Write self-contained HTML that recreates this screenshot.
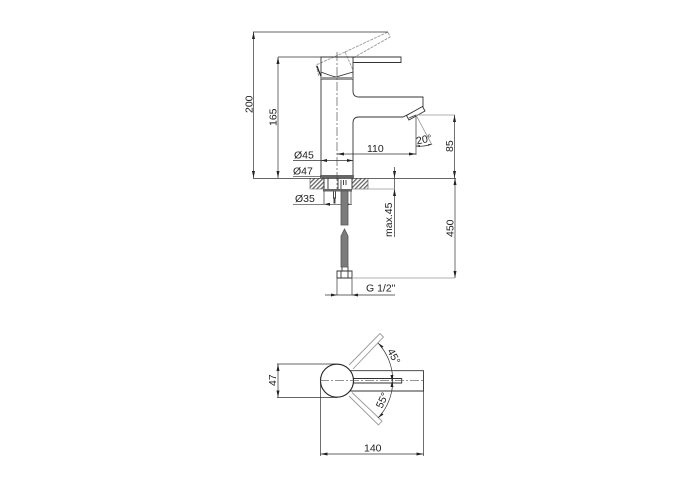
<!DOCTYPE html>
<html><head><meta charset="utf-8"><style>
html,body{margin:0;padding:0;background:#fff}
svg{display:block}
text{font-family:"Liberation Sans",sans-serif;font-size:10.5px;fill:#222}
.d{stroke:#333;stroke-width:.7;fill:none}
.l{stroke:#999;stroke-width:.8;fill:none}
.o{stroke:#333;stroke-width:.9;fill:none}
.g{stroke:#999;stroke-width:.9;fill:#fff}
.c{stroke:#555;stroke-width:.7;fill:none;stroke-dasharray:9 2 2 2}
.a{fill:#222;stroke:none}
</style></head><body>
<svg width="700" height="500" viewBox="0 0 700 500" xmlns="http://www.w3.org/2000/svg">
<defs><pattern id="h" width="3" height="3" patternUnits="userSpaceOnUse" patternTransform="rotate(45)"><rect width="3" height="3" fill="#fff"/><rect width="1.3" height="3" fill="#666"/></pattern></defs>

<!-- raised handle -->
<path class="g" d="M345 52L388 32L390 37L353 58" stroke-dasharray="3 1"/>
<path class="g" d="M345 52L316 65L319 77M345 52L353 70" stroke-dasharray="3 1"/>
<!-- cap and lever -->
<path class="o" d="M321 57H353V79H321ZM321 72C326 74 331 76 336 77L353 72" />
<path d="M321 77H353V79H321Z" fill="#999"/>
<path d="M317 66Q319 72 321 76" stroke="#222" stroke-width="1.2" fill="none"/>
<path class="o" d="M353 57H401V62.500H353"/>
<!-- body and spout -->
<path class="o" d="M321 79V175M353 79V91Q353 97 359 97H423V107L403 117H359Q353 117 353 123V175"/>
<path class="g" style="stroke:#333" d="M406.500 115.500L422.500 106.500L425 111L409 120Z"/>
<path class="d" d="M409 118L416 115"/>
<path d="M320 175H354V178H320Z" fill="#666"/>
<path class="c" d="M337 52V190"/>

<!-- dimension lines: front -->
<path class="d" d="M253 32H388M253.500 32V178M253 178.400H456M278 57H321M278 57V178"/>
<path class="a" d="M253.500 32l-1.500 7h3zM253.500 178l-1.500-7h3zM278 57l-1.500 7h3zM278 178l-1.500-7h3z"/>
<text transform="translate(252.500 113) rotate(-90)">200</text>
<text transform="translate(276.500 126) rotate(-90)">165</text>
<path class="d" d="M293 160.500H353M293 176.300H321"/>
<path class="a" d="M321 160.500l6-1.500v3zM353 160.500l-6-1.500v3z"/>
<text x="294" y="158.500">Ø45</text>
<text x="293" y="174.500">Ø47</text>
<path class="d" d="M337 154H416M416 115V155"/>
<path class="a" d="M337 154l7-1.500v3zM416 154l-7-1.500v3z"/>
<text x="367" y="152">110</text>
<path class="l" d="M416 115H455M416 115L432 145"/>
<path class="d" d="M454.500 115V178"/>
<path class="a" d="M454.500 115l-1.500 7h3zM454.500 178l-1.500-7h3z"/>
<path class="d" d="M416 146Q424 147 431.500 144"/>
<path class="a" d="M416.500 146l3.500-1v2zM431.500 144l-3.500.2.500 1.700z"/>
<text transform="translate(417 144.500) rotate(-12)">20°</text>
<text transform="translate(453 152) rotate(-90)">85</text>

<!-- mounting -->
<path d="M310 178.500H324V189H310ZM352 178.500H368V189H352Z" fill="url(#h)" stroke="#555" stroke-width=".6"/>
<path class="o" stroke-width=".7" d="M324 178V189M328 178V189M338 178V189M352 178V189"/>
<path d="M323 189H352V191.500H323Z" fill="#666"/>
<path class="o" d="M333.500 191.500V198H335.500V191.500M334 198V203H335V198M341 180V189M343.500 180V185M346 180V185"/>
<path class="d" d="M324 191V204M351 191V204M293 204.300H352M394.500 167V237"/>
<path class="l" d="M352 189H395"/>
<path class="a" d="M324 204.300l6-1.500v3zM351 204.300l-6-1.500v3zM394.500 178l-1.500-7h3zM394.500 189l-1.500 7h3z"/>
<text x="295" y="202">Ø35</text>
<text transform="translate(392 237) rotate(-90)">max.45</text>
<!-- hose -->
<path d="M341 191H348V225H341ZM341 236L344.500 229L348 236V267H341Z" fill="#7c7c7c" stroke="#555" stroke-width=".8"/>
<path class="o" d="M342 267V271M348 267V271M337 271H352V278H337ZM341 271V278M348 271V278"/>
<path class="d" d="M337 278V295M352 278V295M325 295H395M455 178V278"/>
<path class="l" d="M352 278H455"/>
<path class="a" d="M337 295l-6-1.500v3zM352 295l6-1.500v3zM455 178l-1.500 7h3zM455 278l-1.500-7h3z"/>
<text x="366" y="291.500">G 1/2"</text>
<text transform="translate(453.500 237) rotate(-90)">450</text>

<!-- top view -->
<path class="g" d="M349 365L380 333.500L383.500 337L353 369M352 392.500L382 421L378.500 425L349 396"/>
<path class="o" d="M348 370.700H423.500V391H348"/>
<path class="o" d="M352 378.500H401.700V383H352"/>
<circle cx="337" cy="380.700" r="16.500" fill="#fff" stroke="#222" stroke-width="1.100"/>
<path class="c" d="M320 380.700H424"/>
<path class="d" d="M277 364H337M277 397.500H337M278 364V397.500M320.500 381V456M423.500 391V456M320.500 454H423.500"/>
<path class="a" d="M278 364l-1.500 7h3zM278 397.500l-1.500-7h3zM320.500 454l7-1.500v3zM423.500 454l-7-1.500v3z"/>
<text transform="translate(276 386) rotate(-90)">47</text>
<text x="364" y="451.500">140</text>
<path class="d" d="M378 343A55 55 0 0 1 378 418"/>
<path class="a" d="M378 343l5.500 3.500-2 1.500zM392 381l-1.500-6h3zM392 381l-1.500 6h3zM378 418l5.500-3.500-2-1.500z"/>
<text transform="translate(387 351) rotate(62)">45°</text>
<text transform="translate(382 409) rotate(-65)">55°</text>
</svg>
</body></html>
